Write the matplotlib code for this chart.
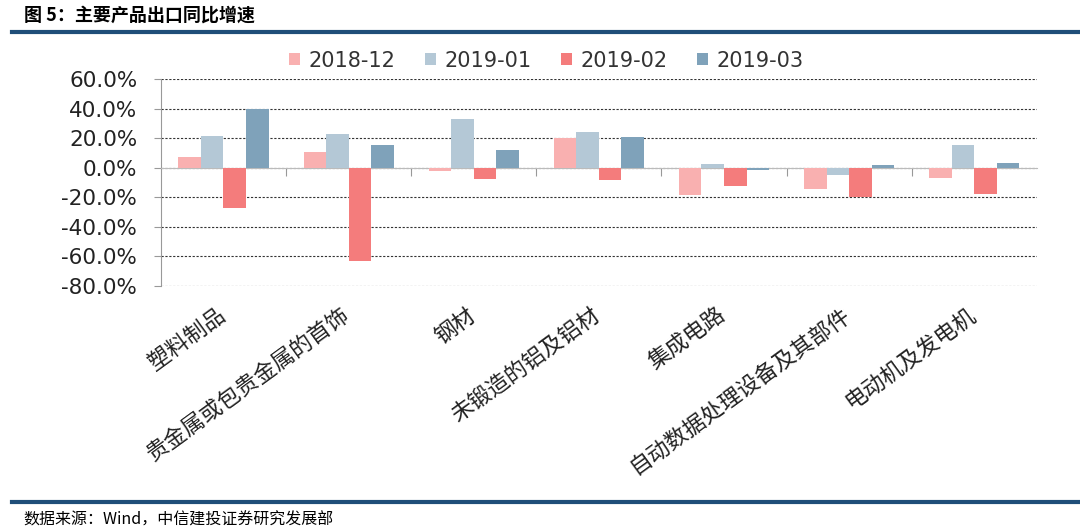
import numpy as np
import matplotlib
matplotlib.use("Agg")
import matplotlib.pyplot as plt
from matplotlib.ticker import FuncFormatter

plt.rcParams['font.family'] = ['Noto Sans CJK SC', 'DejaVu Sans']

categories = ["塑料制品", "贵金属或包贵金属的首饰", "钢材", "未锻造的铝及铝材",
              "集成电路", "自动数据处理设备及其部件", "电动机及发电机"]
series_names = ["2018-12", "2019-01", "2019-02", "2019-03"]
v_2018_12 = [7.0, 10.4, -2.0, 19.8, -18.7, -14.6, -7.0]
v_2019_01 = [21.4, 23.0, 32.7, 24.3, 2.7, -5.0, 15.5]
v_2019_02 = [-27.0, -63.5, -7.7, -8.3, -12.4, -19.6, -17.5]
v_2019_03 = [39.6, 15.3, 11.7, 21.0, -1.4, 1.6, 3.5]
colors = ["#F9B0B0", "#B4C8D6", "#F47C7C", "#7FA2BA"]

fig = plt.figure(figsize=(10.8, 5.32), dpi=100)
ax = fig.add_axes([0.149, 0.4628, 0.811, 0.3885])

x = np.arange(len(categories))
w = 0.18
data = [v_2018_12, v_2019_01, v_2019_02, v_2019_03]
for i, vals in enumerate(data):
    ax.bar(x + (i - 1.5) * w, vals, w, color=colors[i], label=series_names[i], zorder=3)

ax.set_xlim(-0.5, len(categories) - 0.5)
ax.set_ylim(-80, 60)
ax.set_yticks(np.arange(-80, 61, 20))
ax.yaxis.set_major_formatter(FuncFormatter(lambda v, p: "%.1f%%" % v))
ax.grid(axis='y', color='#333333', linestyle=(0, (2, 1.5)), linewidth=0.8, zorder=0)
ax.tick_params(axis='y', length=5, color='#999999', labelsize=15.5, pad=12)
for lab in ax.get_yticklabels():
    lab.set_family('DejaVu Sans')
    lab.set_color('#222222')
for s in ['top', 'right']:
    ax.spines[s].set_visible(False)
ax.spines['left'].set_color('#999999')
ax.spines['bottom'].set_position(('data', 0))
ax.spines['bottom'].set_color('#bbbbbb')
ax.set_xticks(x[1:] - 0.5)
ax.set_xticklabels([])
ax.tick_params(axis='x', length=6, color='#999999', direction='out')
# category labels rotated below the plot
for i, c in enumerate(categories):
    ax.text(i - 0.06, -92, c, rotation=36, ha='right', va='top', fontsize=16,
            rotation_mode='anchor', color='#222222', transform=ax.transData)

leg = ax.legend(loc='center', bbox_to_anchor=(0.44, 1.09), ncol=4, frameon=False,
                handlelength=0.55, handleheight=0.55, handletextpad=0.4,
                columnspacing=1.4, prop={'family': 'DejaVu Sans', 'size': 15})
for t in leg.get_texts():
    t.set_color('#333333')

fig.text(0.022, 0.972, "图 5：主要产品出口同比增速", fontsize=13, fontweight='bold', va='center')
fig.add_artist(plt.Line2D([0.011, 1.0], [0.94, 0.94], color='#1F4E79', linewidth=3))
fig.add_artist(plt.Line2D([0.011, 1.0], [0.057, 0.057], color='#1F4E79', linewidth=3))
fig.text(0.022, 0.022, "数据来源：Wind，中信建投证券研究发展部", fontsize=11.5, style='italic', va='center')

fig.savefig("out.png", dpi=100)
